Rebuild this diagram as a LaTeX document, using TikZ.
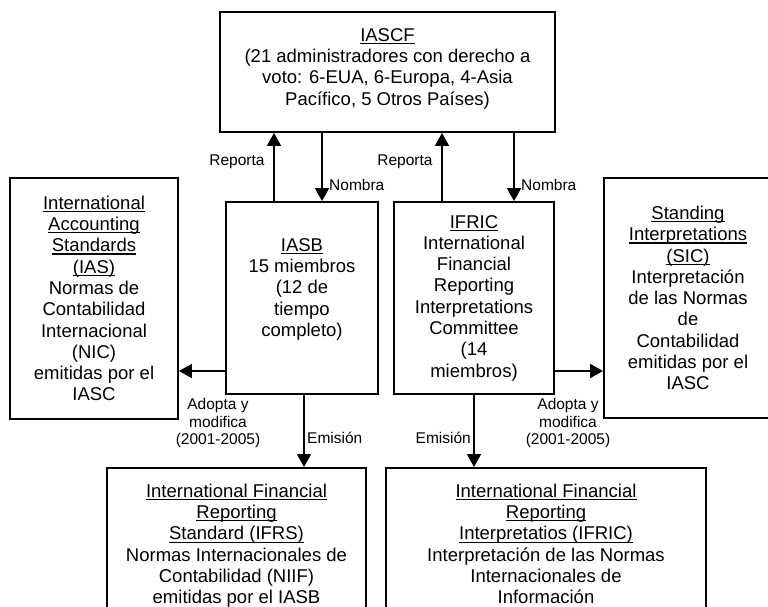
\documentclass[tikz,border=0pt]{standalone}
\usepackage{fontspec}
\setmainfont{Liberation Sans}
\usetikzlibrary{arrows.meta}
\newcommand{\boxfont}{\fontsize{18.5}{21.3}\selectfont}
\newcommand{\lblfont}{\fontsize{15.5}{17.5}\selectfont}
\newcommand{\ulin}[1]{\setbox0=\hbox{#1}\rlap{\rule[-2.8pt]{\wd0}{1.2pt}}\box0}

\begin{document}
\begin{tikzpicture}[x=1pt, y=-1pt,
		box/.style={draw, line width=1.8pt, align=center, font=\boxfont, inner sep=0pt},
		lbl/.style={align=center, font=\lblfont, inner sep=1pt},
		arr/.style={-{Triangle[width=14pt,length=13pt]}, line width=1.8pt}]
			\useasboundingbox (0,0) rectangle (768,606);
			\clip (0,0) rectangle (768,606);
			\node[box, minimum width=335pt, minimum height=120pt] (iascf) at (387.5, 72) {\ulin{IASCF}\\(21 administradores con derecho a\\voto: 6-EUA, 6-Europa, 4-Asia\\Pacífico, 5 Otros Países)\\[-11pt]\mbox{}};
			\node[box, minimum width=152pt, minimum height=192pt] (iasb) at (302, 298) {\ulin{IASB}\\15 miembros\\(12 de\\tiempo\\completo)\\\mbox{}};
			\node[box, minimum width=160pt, minimum height=192pt] (ifric) at (474, 298) {\ulin{IFRIC}\\International\\Financial\\Reporting\\Interpretations\\Committee\\(14\\miembros)};
			\node[box, minimum width=168pt, minimum height=241pt] (ias) at (94, 298.5) {\ulin{International}\\\ulin{Accounting}\\\ulin{Standards}\\\ulin{(IAS)}\\Normas de\\Contabilidad\\Internacional\\(NIC)\\emitidas por el\\IASC};
			\node[box, minimum width=168pt, minimum height=240pt] (sic) at (688, 298) {\ulin{Standing}\\\ulin{Interpretations}\\\ulin{(SIC)}\\Interpretación\\de las Normas\\de\\Contabilidad\\emitidas por el\\IASC};
			\node[box, anchor=north, minimum width=259pt, inner ysep=16pt] (ifrs) at (236.5, 467) {\ulin{International Financial}\\\ulin{Reporting}\\\ulin{Standard (IFRS)}\\Normas Internacionales de\\Contabilidad (NIIF)\\emitidas por el IASB};
			\node[box, anchor=north, minimum width=320pt, inner ysep=16pt] (ifrics) at (546, 467) {\ulin{International Financial}\\\ulin{Reporting}\\\ulin{Interpretatios (IFRIC)}\\Interpretación de las Normas\\Internacionales de\\Información};
			\node[lbl] (rep1) at (237, 162) {Reporta};
			\node[lbl, anchor=west] (nom1) at (328, 185) {Nombra};
			\node[lbl] (rep2) at (405, 162) {Reporta};
			\node[lbl, anchor=west] (nom2) at (520, 185) {Nombra};
			\node[lbl] (adp1) at (218, 423) {Adopta y\\modifica\\(2001-2005)};
			\node[lbl] (adp2) at (568, 423) {Adopta y\\modifica\\(2001-2005)};
			\node[lbl, anchor=west] (emi1) at (306, 438) {Emisión};
			\node[lbl, anchor=east] (emi2) at (472, 438) {Emisión};
			\coordinate (xrep1) at (274, 0);
			\coordinate (xnom1) at (322, 0);
			\coordinate (xrep2) at (442, 0);
			\coordinate (xnom2) at (514, 0);
			\coordinate (xemi1) at (304, 0);
			\coordinate (xemi2) at (474, 0);
			\coordinate (yadp) at (0, 371);
			\draw[arr] (iasb.north -| xrep1) -- (iascf.south -| xrep1);
			\draw[arr] (iascf.south -| xnom1) -- (iasb.north -| xnom1);
			\draw[arr] (ifric.north -| xrep2) -- (iascf.south -| xrep2);
			\draw[arr] (iascf.south -| xnom2) -- (ifric.north -| xnom2);
			\draw[arr] (iasb.west |- yadp) -- (ias.east |- yadp);
			\draw[arr] (ifric.east |- yadp) -- (sic.west |- yadp);
			\draw[arr] (iasb.south -| xemi1) -- (ifrs.north -| xemi1);
			\draw[arr] (ifric.south -| xemi2) -- (ifrics.north -| xemi2);
		\end{tikzpicture}
\end{document}
